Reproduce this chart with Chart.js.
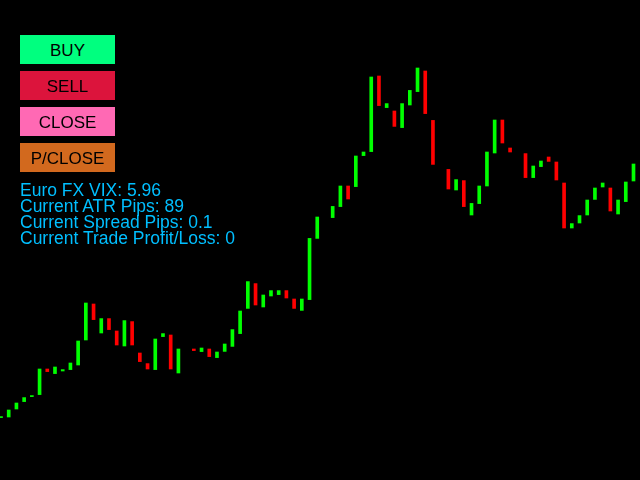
<!DOCTYPE html>
<html>
<head>
<meta charset="utf-8">
<script src="https://cdn.jsdelivr.net/npm/chart.js@4/dist/chart.umd.min.js"></script>
<style>
    html, body { margin: 0; padding: 0; background: #000; overflow: hidden; }
    #wrap { position: relative; width: 640px; height: 480px; }
    #chart { position: absolute; left: 0; top: 0; }
    .btn {
        position: absolute; left: 20px; width: 95px; height: 29px;
        font: 17px "Liberation Sans", Arial, sans-serif; color: #000;
        text-align: center; line-height: 31px;
    }
    #info {
        position: absolute; left: 20px; top: 181.5px;
        font: 17.5px "Liberation Sans", Arial, sans-serif; color: #00BFFF;
        line-height: 16.3px; white-space: pre;
    }
</style>
</head>
<body>
<div id="wrap">
    <canvas id="chart" width="640" height="480"></canvas>
    <div class="btn" style="top:35px;background:#00FF7F">BUY</div>
    <div class="btn" style="top:71px;background:#DC143C">SELL</div>
    <div class="btn" style="top:107px;background:#FF69B4">CLOSE</div>
    <div class="btn" style="top:143px;background:#D2691E">P/CLOSE</div>
    <div id="info"></div>
</div>
<script>
// --- Price data (one entry per bar, null = no visible body) ---
const opens = [
    1.08312, 1.08315, 1.08355, 1.08392, 1.08417, 1.08427, 1.08555, 1.08532, 1.08545, 1.08552,
    1.08575, 1.08700, 1.08880, 1.08735, 1.08807, 1.08745, 1.08670, 1.08792, 1.08635, 1.08582,
    1.08552, 1.08717, 1.08725, 1.08535, null,    1.08655, 1.08642, 1.08655, 1.08612, 1.08643,
    1.08668, 1.08732, 1.08858, 1.08982, 1.08865, 1.08920, 1.08927, 1.08947, 1.08905, 1.08848,
    1.08902, 1.09208, null,    1.09312, 1.09367, 1.09470, 1.09467, 1.09622, 1.09642, 1.10020,
    1.09862, 1.09845, 1.09762, 1.09875, 1.09942, 1.10045, 1.09798, null,    1.09553, 1.09450,
    1.09497, 1.09325, 1.09382, 1.09470, 1.09635, 1.09800, 1.09660, null,    1.09632, 1.09512,
    1.09567, 1.09615, 1.09590, 1.09485, 1.09260, 1.09285, 1.09325, 1.09403, 1.09465, 1.09460,
    1.09330, 1.09392, 1.09495
];
const closes = [
    1.08317, 1.08350, 1.08385, 1.08412, 1.08422, 1.08555, 1.08542, 1.08565, 1.08552, 1.08585,
    1.08695, 1.08885, 1.08802, 1.08807, 1.08752, 1.08675, 1.08797, 1.08675, 1.08592, 1.08555,
    1.08705, 1.08732, 1.08555, 1.08655, null,    1.08647, 1.08660, 1.08617, 1.08640, 1.08680,
    1.08752, 1.08845, 1.08992, 1.08875, 1.08925, 1.08947, 1.08947, 1.08910, 1.08858, 1.08905,
    1.09208, 1.09315, null,    1.09368, 1.09470, 1.09405, 1.09620, 1.09640, 1.10015, 1.09872,
    1.09882, 1.09768, 1.09882, 1.09948, 1.10060, 1.09832, 1.09578, null,    1.09455, 1.09502,
    1.09367, 1.09383, 1.09470, 1.09640, 1.09800, 1.09685, 1.09640, null,    1.09512, 1.09570,
    1.09595, 1.09593, 1.09500, 1.09260, 1.09282, 1.09322, 1.09400, 1.09460, 1.09485, 1.09345,
    1.09400, 1.09490, 1.09580
];
const barLabels = opens.map((_, i) => 'Bar ' + (i + 1));

const PRICE_MIN = 1.0800;
const PRICE_MAX = 1.1040;

const infoLines = [
    'Euro FX VIX: 5.96',
    'Current ATR Pips: 89',
    'Current Spread Pips: 0.1',
    'Current Trade Profit/Loss: 0'
];

const UP_COLOR = '#00FF00';
const DOWN_COLOR = '#FF0000';

// --- Chart ---
function initChart() {
    const bodies = opens.map((o, i) => o === null ? null : [o, closes[i]]);
    const colors = opens.map((o, i) => (o !== null && closes[i] < o) ? DOWN_COLOR : UP_COLOR);

    const ctx = document.getElementById('chart').getContext('2d');
    new Chart(ctx, {
        type: 'bar',
        data: {
            labels: barLabels,
            datasets: [{
                data: bodies,
                backgroundColor: colors,
                borderWidth: 0,
                barThickness: 3,
                clip: false
            }]
        },
        options: {
            responsive: false,
            animation: false,
            layout: { padding: { left: 1, right: 6.5, top: 0, bottom: 0 } },
            scales: {
                x: { display: false, offset: false, grid: { offset: false } },
                y: { display: false, min: PRICE_MIN, max: PRICE_MAX }
            },
            plugins: {
                legend: { display: false },
                tooltip: { enabled: false }
            }
        }
    });
}

document.getElementById('info').textContent = infoLines.join('\n');
initChart();
</script>
</body>
</html>
